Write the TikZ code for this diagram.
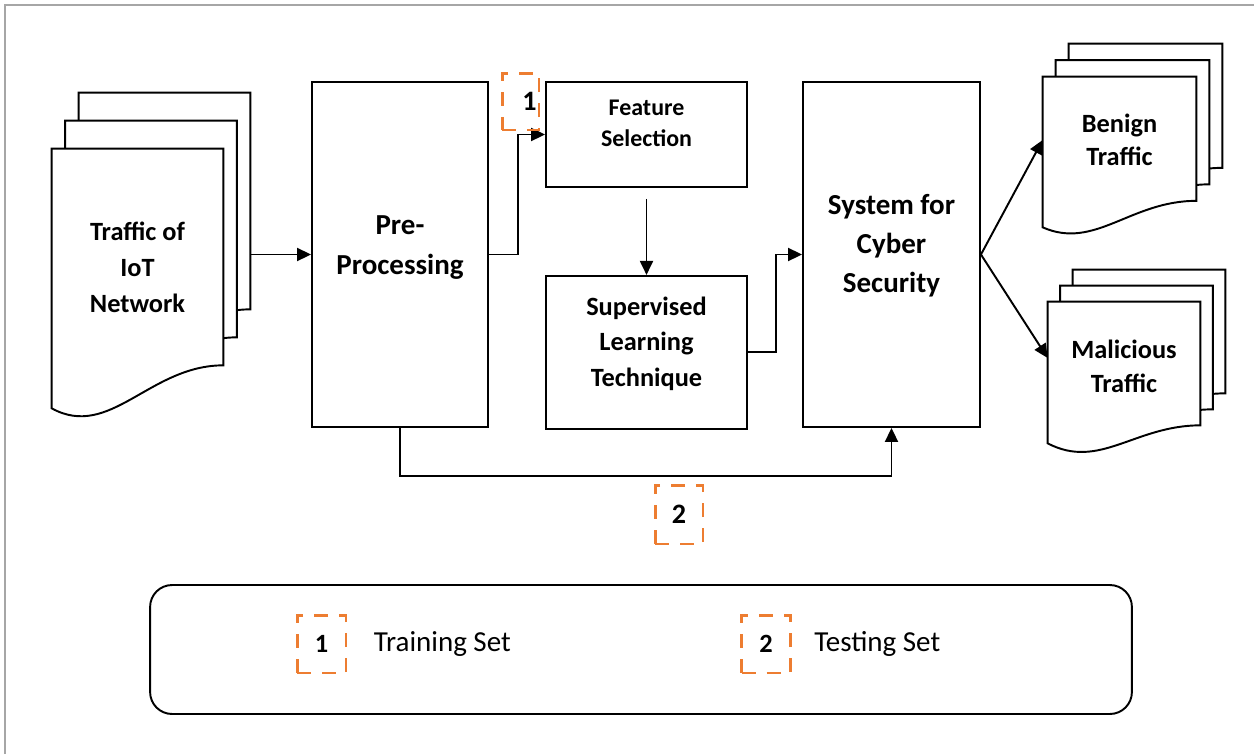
\documentclass[tikz,border=0pt]{standalone}
\usepackage{fontspec}
\setmainfont{Carlito}
\usetikzlibrary{arrows.meta,positioning,calc,backgrounds}
\definecolor{setorange}{HTML}{ED7D31}
\tikzset{
  stage/.style = {rectangle, draw, line width=1.1pt, align=center, inner sep=0pt,
    font=\bfseries\fontsize{16.5}{22.5}\selectfont},
  page/.style = {draw, line width=1.1pt, fill=white},
  pagetext/.style = {align=center, inner sep=0pt, font=\bfseries\fontsize{15}{19}\selectfont},
  setbox/.style = {rectangle, draw=setorange, line width=1.7pt, dash pattern=on 0.28cm off 0.22cm,
    minimum width=0.98cm, minimum height=1.16cm, inner sep=0pt, font=\bfseries\fontsize{15}{18}\selectfont},
  legendtext/.style = {font=\fontsize{16.5}{20}\selectfont, inner sep=0pt},
  arrow/.style = {line width=1.1pt, -{Triangle[length=0.28cm, width=0.26cm]}}
}

% three sheets behind a page node: #1 node, #2/#3 offset per sheet,
% #4 rise of the right corner, #5 drop of the left corner, #6 depth of the wave
\newcommand{\pagestack}[6]{%
  \foreach \k in {2,1,0}{
    \draw[page, transform canvas={xshift=\k*#2, yshift=\k*#3}]
      (#1.north west) -- (#1.north east) -- ([yshift=#4]#1.south east)
      .. controls ($(#1.south west)!0.57!(#1.south east)+(0,#4)$)
              and ($(#1.south west)!0.34!(#1.south east)-(0,#6)$)
      .. ([yshift=-#5]#1.south west) -- cycle;
  }}

\begin{document}
\begin{tikzpicture}[x=0.02cm, y=-0.02cm]
\useasboundingbox (0,0) rectangle (1254,754);
\draw[gray!70, line width=1pt] (5,754) -- (5,5) -- (1254,5);

% input traffic
\node[pagetext, font=\bfseries\fontsize{15}{20.5}\selectfont, minimum width=3.42cm, minimum height=4.72cm]
  (traffic) at (137.5,267) {Traffic of\\IoT\\Network};

% processing chain (text sits a little above the middle of each box)
\node[stage, minimum width=3.52cm, minimum height=6.9cm, text height=1.6cm, text depth=0.82cm]
  (pre) at (400,254.5) {Pre-\\Processing};
\node[stage, font=\bfseries\fontsize{13.6}{17.6}\selectfont, minimum width=4.02cm, minimum height=2.1cm,
  text height=1.2cm, text depth=0.72cm] (feature) at (646.5,134.5) {Feature\\Selection};
\node[stage, font=\bfseries\fontsize{15}{20.2}\selectfont, minimum width=4.02cm, minimum height=3.06cm,
  text height=2.1cm, text depth=0.74cm, below=1.74cm of feature] (superv) {Supervised\\Learning\\Technique};
\node[stage, font=\bfseries\fontsize{16.5}{22.2}\selectfont, minimum width=3.54cm, minimum height=6.9cm,
  text height=2.3cm, text depth=0.76cm] (system) at (891.5,254.5) {System for\\Cyber\\Security};

% outputs
\node[pagetext, minimum width=3.06cm, minimum height=2.52cm] (benign) at (1119.5,140) {Benign\\Traffic};
\node[pagetext, font=\bfseries\fontsize{15}{19.4}\selectfont, minimum width=3.04cm, minimum height=2.56cm]
  (malicious) at (1124,366) {Malicious\\Traffic};

\begin{scope}[on background layer]
  \pagestack{traffic}{0.27cm}{0.56cm}{0.4cm}{0.46cm}{1.1cm}
  \pagestack{benign}{0.26cm}{0.33cm}{0.05cm}{0.48cm}{0.94cm}
  \pagestack{malicious}{0.25cm}{0.32cm}{0.1cm}{0.26cm}{0.8cm}
\end{scope}

% connectors
\coordinate (trafficback) at ([xshift=0.54cm]traffic.east);
\draw[arrow] (trafficback |- pre.west) -- (pre.west);
\draw[arrow] (pre.east) -- ++(29,0) |- (feature.west);
\draw[arrow] ([yshift=-0.22cm]feature.south) -- (superv.north);
\draw[arrow] (superv.east) -- ++(28,0) |- (system.west);
\draw[arrow] (pre.south) -- ++(0,48) -| (system.south);
\draw[arrow] (system.east) -- (benign.west);
\draw[arrow] (system.east) -- ([yshift=0.16cm]malicious.west);

% set markers
\node[setbox, font=\bfseries\fontsize{16}{18}\selectfont, minimum width=0.74cm, minimum height=1.14cm,
  text width=0.64cm, align=right] (mark1) at (520.5,101.5) {1};
\node[setbox, font=\bfseries\fontsize{16}{18}\selectfont, minimum width=0.96cm, minimum height=1.18cm]
  (mark2) at (679,514.5) {2};

% legend
\node[draw, line width=1.1pt, rounded corners=0.44cm, minimum width=19.64cm, minimum height=2.58cm]
  (legend) at (641,649.5) {};
\node[setbox] (key1) at (321.5,644) {1};
\node[legendtext, right=0.52cm of key1] (train) {Training Set};
\node[setbox] (key2) at (766,644) {2};
\node[legendtext, right=0.44cm of key2] (test) {Testing Set};
\end{tikzpicture}
\end{document}
